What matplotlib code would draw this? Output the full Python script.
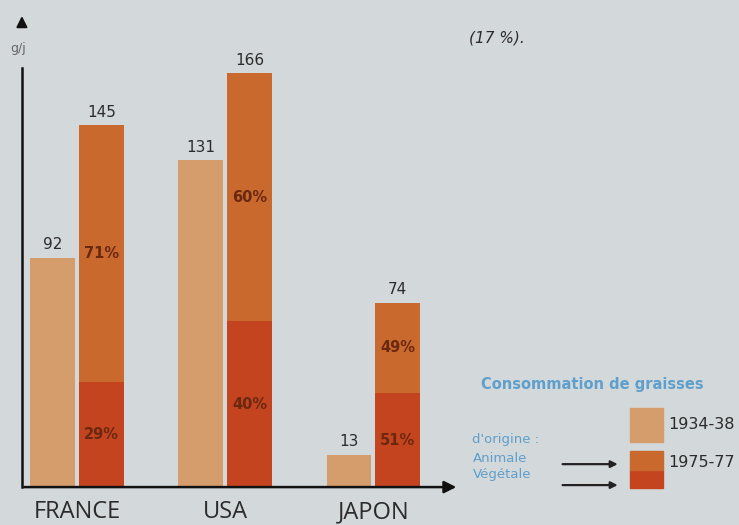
import matplotlib.pyplot as plt
import numpy as np

# données (g/j)
pays = ["FRANCE", "USA", "JAPON"]
total_1934 = [92, 131, 13]
total_1975 = [145, 166, 74]
part_animale = [71, 60, 49]   # % du total 1975-77
part_vegetale = [29, 40, 51]

c_old = "#d59c6c"
c_anim = "#c9692e"
c_veg = "#c4441f"
fond = "#d3d8db"
txt = "#2b2b2b"
bleu = "#5f9fcb"


def main():
    fig = plt.figure(figsize=(7.39, 5.25), dpi=100)
    fig.patch.set_facecolor(fond)
    ax = fig.add_axes([0, 0, 1, 1])
    ax.set_facecolor(fond)
    ax.set_xlim(-0.52, 4.47)
    ax.set_ylim(-15.2, 195.3)
    ax.axis("off")

    x = np.arange(len(pays))
    w = 0.30
    d = 0.165
    veg = np.array(total_1975) * np.array(part_vegetale) / 100
    anim = np.array(total_1975) - veg

    ax.bar(x - d, total_1934, w, color=c_old, zorder=2)
    ax.bar(x + d, veg, w, color=c_veg, zorder=2)
    ax.bar(x + d, anim, w, bottom=veg, color=c_anim, zorder=2)

    for i in range(len(pays)):
        ax.annotate(str(total_1934[i]), (x[i] - d, total_1934[i]),
                    xytext=(0, 4), textcoords="offset points", ha="center",
                    va="bottom", fontsize=11, color=txt)
        ax.annotate(str(total_1975[i]), (x[i] + d, total_1975[i]),
                    xytext=(0, 4), textcoords="offset points", ha="center",
                    va="bottom", fontsize=11, color=txt)
        ax.text(x[i] + d, veg[i] / 2, f"{part_vegetale[i]}%", ha="center",
                va="center", fontsize=10.5, color="#6a2810", fontweight="bold")
        ax.text(x[i] + d, veg[i] + anim[i] / 2, f"{part_animale[i]}%",
                ha="center", va="center", fontsize=10.5, color="#6a2810",
                fontweight="bold")
        ax.text(x[i], -10, pays[i], ha="center", va="center", fontsize=17,
                color=txt, family="Open Sans")

    # axes avec flèches
    ax.annotate("", xy=(2.58, 0), xytext=(-0.375, 0),
                arrowprops=dict(arrowstyle="-|>", color="#111111", lw=1.8,
                                mutation_scale=18), zorder=3)
    ax.plot([-0.372, -0.372], [0, 168], color="#111111", lw=1.8, zorder=3)
    ax.annotate("", xy=(-0.372, 190), xytext=(-0.372, 184),
                arrowprops=dict(arrowstyle="-|>", color="#111111", lw=1.5,
                                mutation_scale=16))
    ax.text(-0.40, 176, "g/j", ha="center", va="center", fontsize=9,
            color="#666666")

    ax.text(2.65, 180, "(17 %).", ha="left", va="center", fontsize=11,
            style="italic", color=txt)

    # légende
    ax.text(2.73, 41, "Consommation de graisses", ha="left", va="center",
            fontsize=10.5, fontweight="bold", color=bleu)
    ax.text(2.67, 19, "d'origine :", ha="left", va="center", fontsize=9.5,
            color=bleu)
    ax.text(2.67, 11.5, "Animale", ha="left", va="center", fontsize=9.5,
            color=bleu)
    ax.text(2.67, 5.2, "Végétale", ha="left", va="center", fontsize=9.5,
            color=bleu)
    ax.annotate("", xy=(3.67, 9.2), xytext=(3.26, 9.2),
                arrowprops=dict(arrowstyle="-|>", color="#222222", lw=1.6))
    ax.annotate("", xy=(3.67, 0.8), xytext=(3.26, 0.8),
                arrowprops=dict(arrowstyle="-|>", color="#222222", lw=1.6))
    sw = 0.225
    ax.add_patch(plt.Rectangle((3.735, 18.2), sw, 13.6, color=c_old))
    ax.add_patch(plt.Rectangle((3.735, -0.4), sw, 7.4, color=c_veg))
    ax.add_patch(plt.Rectangle((3.735, 7.0), sw, 7.5, color=c_anim))
    ax.text(3.99, 25, "1934-38", ha="left", va="center", fontsize=11.5,
            color=txt)
    ax.text(3.99, 10, "1975-77", ha="left", va="center", fontsize=11.5,
            color=txt)

    fig.savefig("out.png", dpi=100, facecolor=fond)


if __name__ == "__main__":
    main()
